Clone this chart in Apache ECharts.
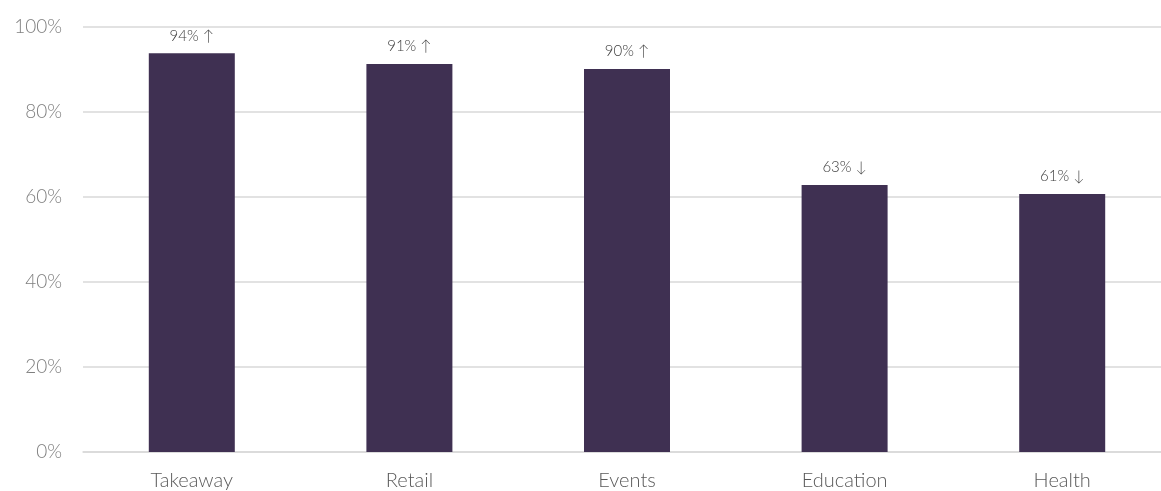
<!DOCTYPE html>
<html>
<head>
<meta charset="utf-8">
<script src="https://cdn.jsdelivr.net/npm/echarts@6/dist/echarts.min.js"></script>
<style>
html,body{margin:0;padding:0;background:#fff;overflow:hidden;width:1161px;height:491px;}
#c{width:1171px;height:491px;}
</style>
</head>
<body>
<div id="c"></div>
<script>
var categories = ['Takeaway', 'Retail', 'Events', 'Education', 'Health'];
var values = [93.8, 91.3, 90.1, 62.8, 60.7];
var labels = ['94% \u2191', '91% \u2191', '90% \u2191', '63% \u2193', '61% \u2193'];

var chart = echarts.init(document.getElementById('c'));
chart.setOption({
  animation: false,
  grid: { left: 83, right: 0, top: 27, bottom: 38, containLabel: false },
  xAxis: {
    type: 'category',
    data: categories,
    axisLine: { show: true, lineStyle: { color: '#d9d9d9', width: 1.5 } },
    axisTick: { show: false },
    axisLabel: { color: '#595959', fontSize: 20, fontWeight: 300, fontFamily: 'Lato', margin: 19 }
  },
  yAxis: {
    type: 'value',
    min: 0, max: 100, interval: 20,
    axisLine: { show: false },
    axisTick: { show: false },
    splitLine: { lineStyle: { color: '#d9d9d9', width: 1.5 } },
    axisLabel: { color: '#7f7f7f', fontSize: 19, fontWeight: 300, fontFamily: 'Lato', margin: 21, formatter: '{value}%' }
  },
  series: [{
    type: 'bar',
    data: values,
    barWidth: 86,
    itemStyle: { color: '#3f3052' },
    label: {
      show: true,
      position: 'top',
      distance: 10,
      color: '#404040',
      fontSize: 15,
      fontWeight: 300,
      fontFamily: 'Lato',
      formatter: function (p) { return labels[p.dataIndex]; }
    }
  }]
});
</script>
</body>
</html>
